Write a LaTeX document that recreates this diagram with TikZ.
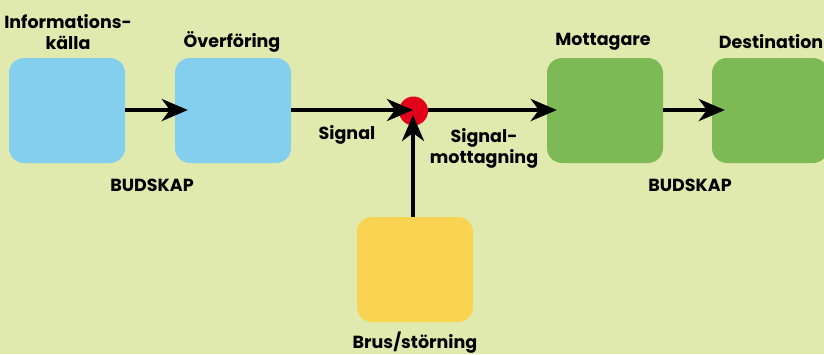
\documentclass[tikz,border=0pt]{standalone}
\usepackage{fontspec}
\setmainfont{Poppins}[BoldFont={* Bold}]
\usetikzlibrary{arrows.meta}
\definecolor{bgcol}{HTML}{E0EAAE}
\definecolor{bluebox}{HTML}{84CEEE}
\definecolor{greenbox}{HTML}{7DB955}
\definecolor{yellowbox}{HTML}{F9D452}
\definecolor{dotred}{HTML}{E2001A}
\tikzset{
  stagebox/.style={rectangle, rounded corners=15pt, minimum width=116pt, minimum height=105pt, inner sep=0pt},
  lbl/.style={font=\bfseries\fontsize{17.5}{21}\selectfont, align=center, inner sep=0pt},
  flow/.style={line width=4.2pt, -{Stealth[length=26pt, width=22pt, inset=8pt]}},
}
\begin{document}
\begin{tikzpicture}[x=1pt, y=-1pt]
  \fill[bgcol] (0,0) rectangle (824,354);
  \useasboundingbox (0,0) rectangle (824,354);
  % stages
  \node[stagebox, fill=bluebox] (src) at (67,110.5) {};
  \node[stagebox, fill=bluebox] (tx) at (233,110.5) {};
  \node[stagebox, fill=greenbox] (rx) at (605,110.5) {};
  \node[stagebox, fill=greenbox] (dst) at (770,110.5) {};
  \node[stagebox, fill=yellowbox] (noise) at (415,269.5) {};
  \node[circle, fill=dotred, minimum size=29pt, inner sep=0pt] (mix) at (413.5,111) {};
  % connectors
  \coordinate (txend) at (413,110);
  \draw[flow] (src.east |- 0,110) -- ([xshift=13pt]tx.west |- 0,110);
  \draw[flow] (tx.east |- 0,110) -- (txend);
  \draw[flow] (mix.east |- 0,110) -- ([xshift=10pt]rx.west |- 0,110);
  \draw[flow] (rx.east |- 0,110) -- ([xshift=13pt]dst.west |- 0,110);
  \draw[flow] (noise.north -| 413,0) -- (413,115);
  % labels
  \node[lbl] (lsrc) at (68,32) {Informations-\\källa};
  \node[lbl] (ltx) at (232,42) {Överföring};
  \node[lbl] (lmsg1) at (152,185) {BUDSKAP};
  \node[lbl] (lsig) at (347,135) {Signal};
  \node[lbl] (lrec) at (484,148) {Signal-\\mottagning};
  \node[lbl] (lrx) at (603,42) {Mottagare};
  \node[lbl] (ldst) at (771,42) {Destination};
  \node[lbl] (lmsg2) at (690,185) {BUDSKAP};
  \node[lbl] (lnoise) at (415,343) {Brus/störning};
\end{tikzpicture}
\end{document}
